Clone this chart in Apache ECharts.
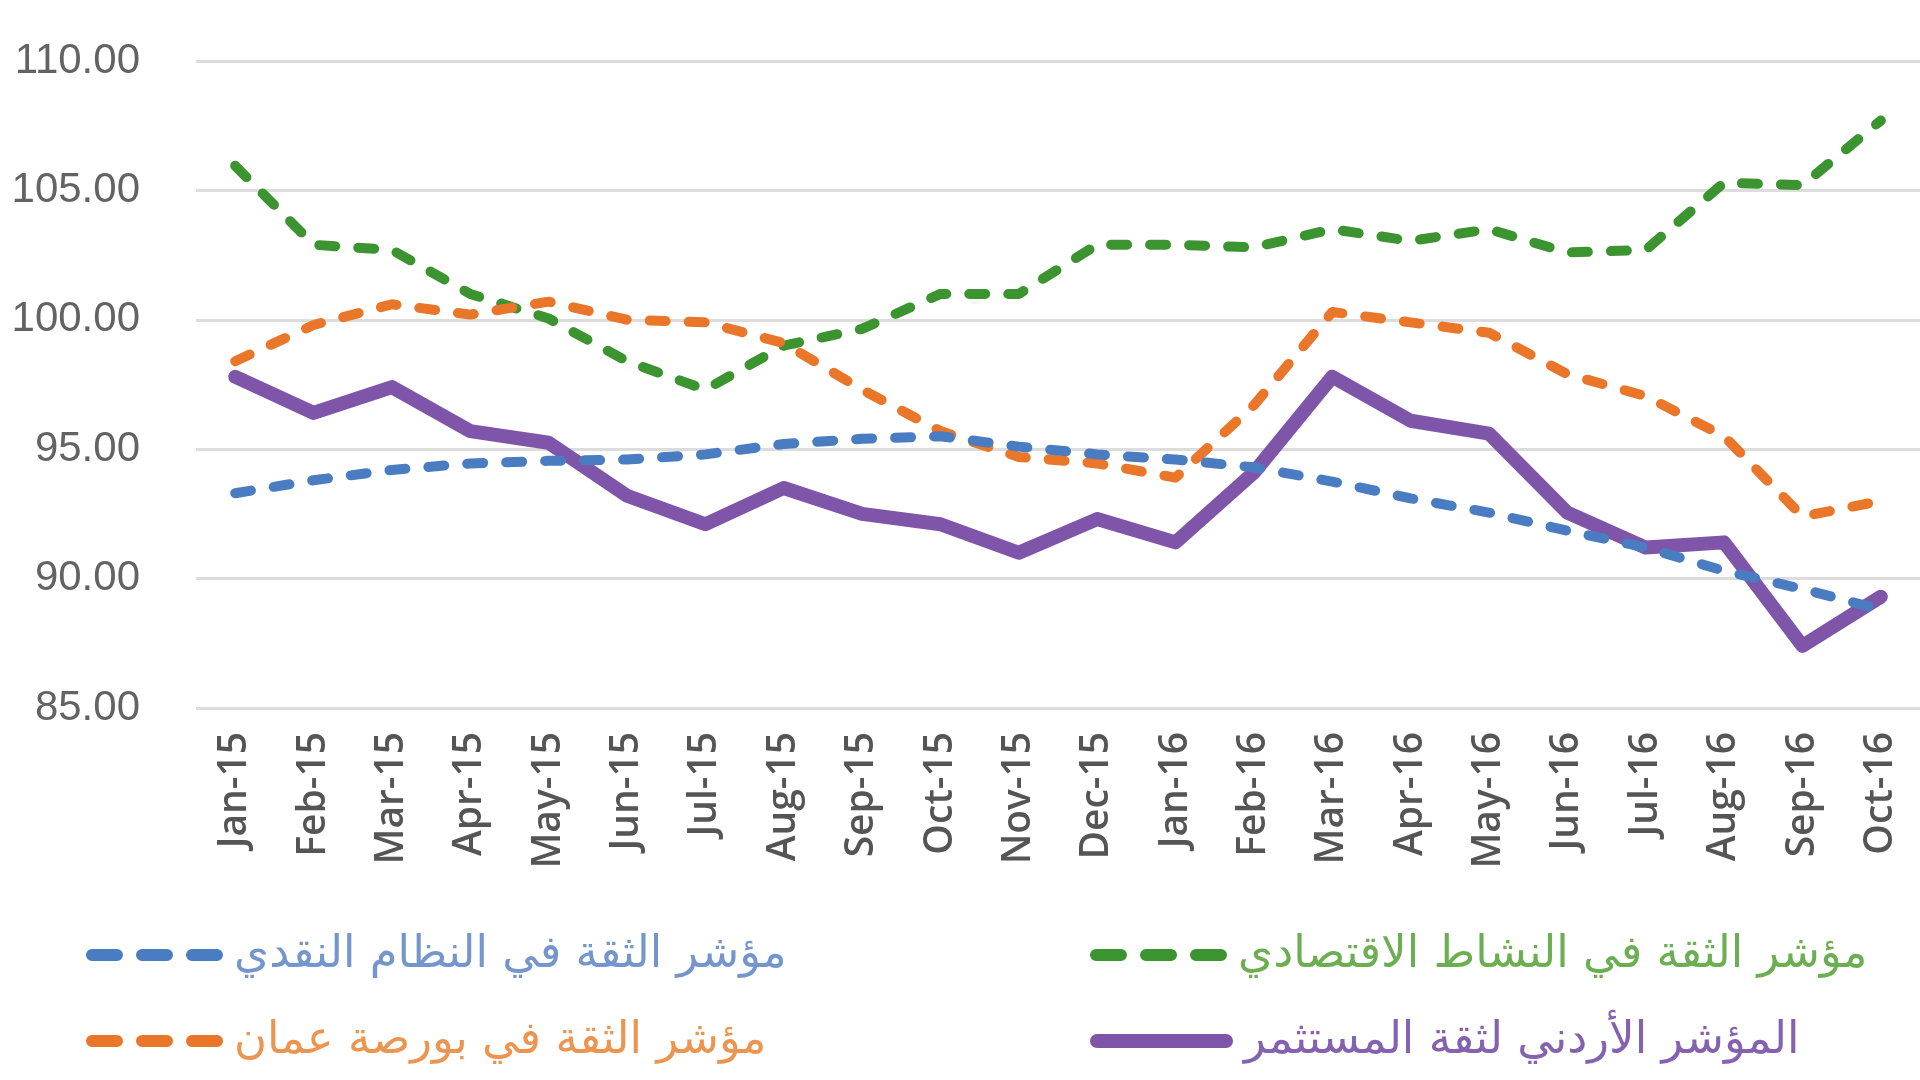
<!DOCTYPE html>
<html>
<head>
<meta charset="utf-8">
<script src="https://cdn.jsdelivr.net/npm/echarts@6/dist/echarts.min.js"></script>
<style>
html,body{margin:0;padding:0;background:#fff;}
#chart{width:1920px;height:1080px;}
</style>
</head>
<body>
<div id="chart"></div>
<script>
const categories = ['Jan-15','Feb-15','Mar-15','Apr-15','May-15','Jun-15','Jul-15','Aug-15','Sep-15','Oct-15','Nov-15','Dec-15',
  'Jan-16','Feb-16','Mar-16','Apr-16','May-16','Jun-16','Jul-16','Aug-16','Sep-16','Oct-16'];

const seriesNames = [
  'مؤشر الثقة في النظام النقدي',
  'مؤشر الثقة في النشاط الاقتصادي',
  'مؤشر الثقة في بورصة عمان',
  'المؤشر الأردني لثقة المستثمر'
];

const monetaryValues = [93.3,93.8,94.2,94.45,94.55,94.6,94.8,95.2,95.4,95.5,95.1,94.8,94.6,94.3,93.75,93.1,92.55,91.85,91.2,90.3,89.6,88.8];
const economicValues = [105.95,102.9,102.7,101.0,100.05,98.4,97.3,99.0,99.65,101.0,101.0,102.9,102.9,102.8,103.5,103.05,103.5,102.6,102.7,105.3,105.2,107.7];
const exchangeValues = [98.4,99.8,100.6,100.2,100.7,100.0,99.9,99.1,97.3,95.7,94.7,94.45,93.9,96.7,100.3,99.9,99.5,97.9,97.05,95.5,92.4,93.0];
const investorValues = [97.8,96.4,97.4,95.7,95.25,93.2,92.1,93.5,92.5,92.1,91.0,92.3,91.4,94.1,97.8,96.1,95.6,92.55,91.2,91.4,87.4,89.3];

const yTicks = {min: 85, max: 110, interval: 5};

const colors = {blue:'#4a7cc1', green:'#3c9431', orange:'#e97629', purple:'#7f55a9'};
const textColors = {blue:'#7596cc', green:'#6cae52', orange:'#eb9550', purple:'#8562b0'};

const dashIcon = 'path://M6,0 H31 A6,6 0 0 1 31,12 H6 A6,6 0 0 1 6,0 Z M56,0 H81 A6,6 0 0 1 81,12 H56 A6,6 0 0 1 56,0 Z M106,0 H131 A6,6 0 0 1 131,12 H106 A6,6 0 0 1 106,0 Z';
const solidIcon = 'path://M7,0 H136 A7,7 0 0 1 136,14 H7 A7,7 0 0 1 7,0 Z';

const chart = echarts.init(document.getElementById('chart'), null, {renderer:'canvas'});

function legendAt(name, left, top, icon, w, h, color) {
  return {
    data: [name], left: left, top: top, orient: 'horizontal', padding: 0,
    icon: icon, itemWidth: w, itemHeight: h, selectedMode: false,
    textStyle: {color: color, fontFamily: 'DejaVu Sans', fontSize: 45, lineHeight: 50, padding: [0,0,0,6]}
  };
}

const dashed = (c) => ({color: c, width: 10, type: [16, 23], cap: 'round', join: 'round'});

chart.setOption({
  animation: false,
  backgroundColor: '#ffffff',
  grid: {left: 196, right: 0, top: 61, bottom: 372, containLabel: false},
  legend: [
    legendAt(seriesNames[0], 86, 930, dashIcon, 137, 12, textColors.blue),
    legendAt(seriesNames[1], 1090, 930, dashIcon, 137, 12, textColors.green),
    legendAt(seriesNames[2], 86, 1016, dashIcon, 137, 12, textColors.orange),
    legendAt(seriesNames[3], 1090, 1016, solidIcon, 143, 14, textColors.purple)
  ],
  xAxis: {
    type: 'category', data: categories, boundaryGap: true,
    axisLine: {show: false}, axisTick: {show: false},
    axisLabel: {rotate: 90, margin: 24, color: '#555555', fontFamily: 'Open Sans', fontSize: 39, fontWeight: 600, interval: 0}
  },
  yAxis: {
    type: 'value', min: yTicks.min, max: yTicks.max, interval: yTicks.interval,
    axisLine: {show: false}, axisTick: {show: false},
    splitLine: {lineStyle: {color: '#dcdcdc', width: 3}},
    axisLabel: {margin: 56, color: '#636363', fontFamily: 'Liberation Sans', fontSize: 42, formatter: v => v.toFixed(2)}
  },
  series: [
    {name: seriesNames[3], type: 'line', data: investorValues, symbol: 'none', color: colors.purple,
     lineStyle: {color: colors.purple, width: 14, join: 'round', cap: 'round'}, z: 2},
    {name: seriesNames[1], type: 'line', data: economicValues, symbol: 'none', color: colors.green,
     lineStyle: dashed(colors.green), z: 3},
    {name: seriesNames[2], type: 'line', data: exchangeValues, symbol: 'none', color: colors.orange,
     lineStyle: dashed(colors.orange), z: 4},
    {name: seriesNames[0], type: 'line', data: monetaryValues, symbol: 'none', color: colors.blue,
     lineStyle: dashed(colors.blue), z: 5}
  ]
});
</script>
</body>
</html>
